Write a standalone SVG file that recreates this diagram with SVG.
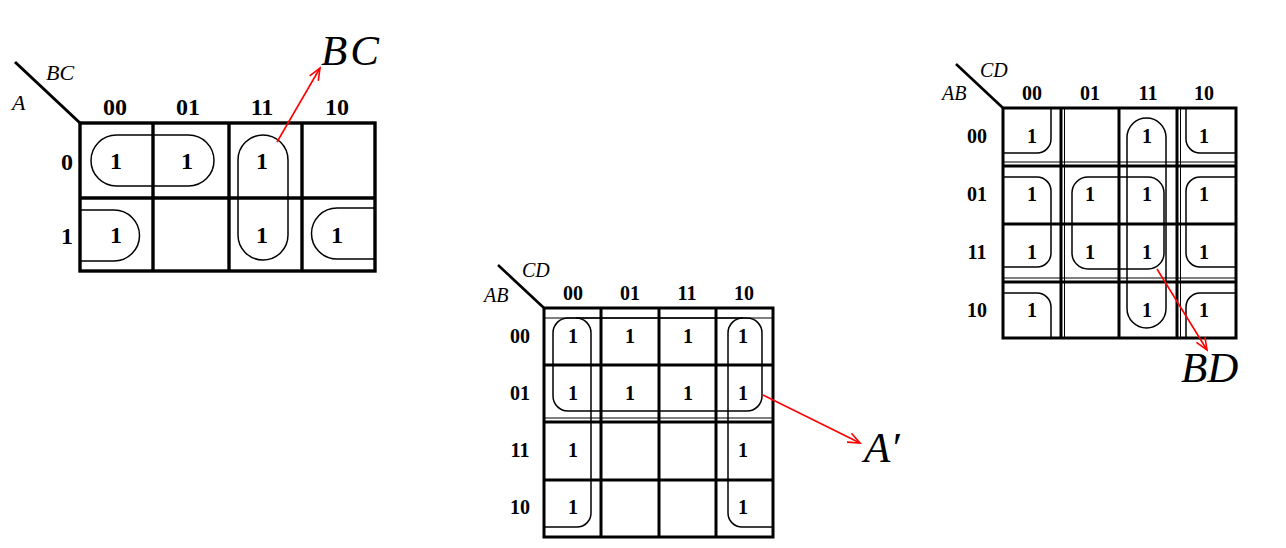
<svg xmlns="http://www.w3.org/2000/svg" width="1286" height="548" viewBox="0 0 1286 548">
<style>
.bg{fill:#fff}
.grid{fill:none;stroke:#000;stroke-width:3.4}
.diag{stroke:#000;stroke-width:3;fill:none}
.thin{fill:none;stroke:#000;stroke-width:1}
.loop{fill:none;stroke:#000;stroke-width:1.5}
.hdr{font-family:"Liberation Serif",serif;font-weight:bold;text-anchor:middle;fill:#000}
.h1{font-size:24px}
.h2{font-size:20px}
.var{font-family:"Liberation Serif",serif;font-style:italic;fill:#000}
.v1{font-size:22px}
.v2{font-size:20px}
.big{font-family:"Liberation Serif",serif;font-style:italic;font-size:43px;fill:#000}
.arrow{stroke:#f00;stroke-width:1.6;fill:none;marker-end:url(#ah)}
</style>
<defs>
<marker id="ah" markerUnits="userSpaceOnUse" markerWidth="16" markerHeight="14" refX="13" refY="6" orient="auto">
<path d="M1,1 L13,6 L1,11" fill="none" stroke="#f00" stroke-width="1.6"/>
</marker>
</defs>
<rect class="bg" x="0" y="0" width="1286" height="548"/>

<g id="kmap1">
<line class="diag" x1="15" y1="62" x2="80" y2="123"/>
<rect class="grid" x="80" y="123" width="295" height="148"/>
<line class="grid" x1="153" y1="123" x2="153" y2="271"/>
<line class="grid" x1="229" y1="123" x2="229" y2="271"/>
<line class="grid" x1="302" y1="123" x2="302" y2="271"/>
<line class="grid" x1="80" y1="198" x2="375" y2="198"/>
<rect class="loop" x="91" y="135" width="123" height="51" rx="25.5"/>
<rect class="loop" x="238" y="135" width="50" height="125" rx="25"/>
<path class="loop" d="M81,210 H114 A25.5 25.5 0 0 1 114,261 H81"/>
<path class="loop" d="M374,208 H337 A25.5 25.5 0 0 0 337,259 H374"/>
<text class="var v1" x="46" y="80">BC</text>
<text class="var v1" x="12" y="110">A</text>
<text class="hdr h1" x="115" y="115">00</text>
<text class="hdr h1" x="188" y="115">01</text>
<text class="hdr h1" x="262" y="115">11</text>
<text class="hdr h1" x="337" y="115">10</text>
<text class="hdr h1" x="67" y="170">0</text>
<text class="hdr h1" x="67" y="244">1</text>
<text class="hdr h1" x="116" y="169">1</text>
<text class="hdr h1" x="187" y="169">1</text>
<text class="hdr h1" x="262" y="169">1</text>
<text class="hdr h1" x="116" y="243">1</text>
<text class="hdr h1" x="262" y="243">1</text>
<text class="hdr h1" x="337" y="243">1</text>
</g>

<g id="kmap2">
<line class="diag" x1="498" y1="265" x2="544" y2="308" style="stroke-width:2.6"/>
<rect class="grid" x="544" y="308" width="229" height="229" style="stroke-width:3"/>
<line class="grid" x1="601" y1="308" x2="601" y2="537" style="stroke-width:3"/>
<line class="grid" x1="659" y1="308" x2="659" y2="537" style="stroke-width:3"/>
<line class="grid" x1="716" y1="308" x2="716" y2="537" style="stroke-width:3"/>
<line class="grid" x1="544" y1="365" x2="773" y2="365" style="stroke-width:3"/>
<line class="grid" x1="544" y1="422" x2="773" y2="422" style="stroke-width:3"/>
<line class="grid" x1="544" y1="480" x2="773" y2="480" style="stroke-width:3"/>
<line class="thin" x1="544" y1="318" x2="773" y2="318"/>
<line class="thin" x1="544" y1="418" x2="773" y2="418"/>
<rect class="loop" x="553" y="318" width="209" height="93" rx="15"/>
<path class="loop" d="M545,527 H577 A14 14 0 0 0 591,513 V333 A15 15 0 0 0 576,318"/>
<path class="loop" d="M772,527 H742 A14 14 0 0 1 728,513 V333 A15 15 0 0 1 743,318"/>
<text class="var v2" x="522" y="277">CD</text>
<text class="var v2" x="484" y="302">AB</text>
<text class="hdr h2" x="573" y="300">00</text>
<text class="hdr h2" x="630" y="300">01</text>
<text class="hdr h2" x="687" y="300">11</text>
<text class="hdr h2" x="744" y="300">10</text>
<text class="hdr h2" x="520" y="343">00</text>
<text class="hdr h2" x="520" y="400">01</text>
<text class="hdr h2" x="520" y="457">11</text>
<text class="hdr h2" x="520" y="514">10</text>
<text class="hdr h2" x="573" y="343">1</text>
<text class="hdr h2" x="630" y="343">1</text>
<text class="hdr h2" x="688" y="343">1</text>
<text class="hdr h2" x="743" y="343">1</text>
<text class="hdr h2" x="573" y="400">1</text>
<text class="hdr h2" x="630" y="400">1</text>
<text class="hdr h2" x="688" y="400">1</text>
<text class="hdr h2" x="743" y="400">1</text>
<text class="hdr h2" x="573" y="457">1</text>
<text class="hdr h2" x="743" y="457">1</text>
<text class="hdr h2" x="573" y="514">1</text>
<text class="hdr h2" x="743" y="514">1</text>
</g>

<g id="kmap3">
<line class="diag" x1="956" y1="64" x2="1003" y2="108" style="stroke-width:2.6"/>
<rect class="grid" x="1003" y="108" width="233" height="230" style="stroke-width:3"/>
<line class="grid" x1="1061" y1="108" x2="1061" y2="338" style="stroke-width:3"/>
<line class="grid" x1="1119" y1="108" x2="1119" y2="338" style="stroke-width:3"/>
<line class="grid" x1="1177" y1="108" x2="1177" y2="338" style="stroke-width:3"/>
<line class="grid" x1="1003" y1="166" x2="1236" y2="166" style="stroke-width:3"/>
<line class="grid" x1="1003" y1="224" x2="1236" y2="224" style="stroke-width:3"/>
<line class="grid" x1="1003" y1="282" x2="1236" y2="282" style="stroke-width:3"/>
<line class="thin" x1="1003" y1="162" x2="1236" y2="162"/>
<line class="thin" x1="1003" y1="278" x2="1236" y2="278"/>
<line class="thin" x1="1064.5" y1="108" x2="1064.5" y2="338"/>
<line class="thin" x1="1180.5" y1="108" x2="1180.5" y2="338"/>
<path class="loop" d="M1051,109 V139 A14 14 0 0 1 1037,153 H1004"/>
<path class="loop" d="M1186,109 V139 A14 14 0 0 0 1200,153 H1235"/>
<path class="loop" d="M1004,293 H1037 A14 14 0 0 1 1051,307 V337"/>
<path class="loop" d="M1235,293 H1200 A14 14 0 0 0 1186,307 V337"/>
<path class="loop" d="M1004,177 H1037 A14 14 0 0 1 1051,191 V253 A14 14 0 0 1 1037,267 H1004"/>
<path class="loop" d="M1235,177 H1200 A14 14 0 0 0 1186,191 V253 A14 14 0 0 0 1200,267 H1235"/>
<rect class="loop" x="1072" y="177" width="92" height="92" rx="16"/>
<rect class="loop" x="1127" y="118" width="39" height="210" rx="19.5"/>
<text class="var v2" x="980" y="77">CD</text>
<text class="var v2" x="942" y="100">AB</text>
<text class="hdr h2" x="1032" y="100">00</text>
<text class="hdr h2" x="1090" y="100">01</text>
<text class="hdr h2" x="1148" y="100">11</text>
<text class="hdr h2" x="1204" y="100">10</text>
<text class="hdr h2" x="977" y="143">00</text>
<text class="hdr h2" x="977" y="201">01</text>
<text class="hdr h2" x="977" y="259">11</text>
<text class="hdr h2" x="977" y="317">10</text>
<text class="hdr h2" x="1032" y="143">1</text>
<text class="hdr h2" x="1147" y="143">1</text>
<text class="hdr h2" x="1204" y="143">1</text>
<text class="hdr h2" x="1032" y="201">1</text>
<text class="hdr h2" x="1090" y="201">1</text>
<text class="hdr h2" x="1147" y="201">1</text>
<text class="hdr h2" x="1204" y="201">1</text>
<text class="hdr h2" x="1032" y="259">1</text>
<text class="hdr h2" x="1090" y="259">1</text>
<text class="hdr h2" x="1147" y="259">1</text>
<text class="hdr h2" x="1204" y="259">1</text>
<text class="hdr h2" x="1032" y="317">1</text>
<text class="hdr h2" x="1147" y="317">1</text>
<text class="hdr h2" x="1204" y="317">1</text>
</g>

<g id="connectors">
<line class="arrow" x1="277" y1="142" x2="320" y2="68"/>
<line class="arrow" x1="763" y1="395" x2="860" y2="443"/>
<line class="arrow" x1="1157" y1="269" x2="1207" y2="350"/>
</g>

<g id="label-BC"><text class="big" x="321" y="65" letter-spacing="3">BC</text></g>
<g id="label-A"><text class="big" x="864" y="462">A′</text></g>
<g id="label-BD"><text class="big" x="1181" y="382">BD</text></g>
</svg>
